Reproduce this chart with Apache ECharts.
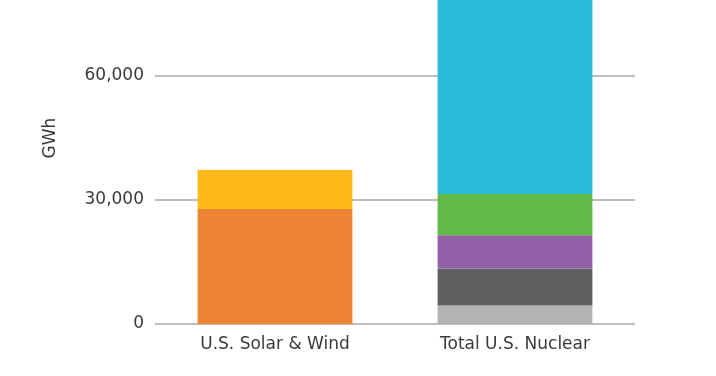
<!DOCTYPE html>
<html>
<head>
<meta charset="utf-8">
<script src="https://cdn.jsdelivr.net/npm/echarts@6/dist/echarts.min.js"></script>
<style>
  html, body { margin: 0; padding: 0; background: #fff; }
  #chart { width: 716px; height: 376px; }
</style>
</head>
<body>
<div id="chart"></div>
<script>
// categories and stacked segments (GWh)
var categories = ['U.S. Solar & Wind', 'Total U.S. Nuclear'];
var orangeVals = [27800, '-'];
var yellowVals = [9450, '-'];
var lightGrayVals = ['-', 4450];
var darkGrayVals = ['-', 8950];
var purpleVals = ['-', 8050];
var greenVals = ['-', 10000];
var cyanVals = ['-', 52000];
var yTicks = [0, 30000, 60000, 90000];

var font = 'DejaVu Sans';
var textColor = '#3a3a3a';
var lineColor = '#bcbcbc';

function seg(name, data, color) {
    return {
        name: name,
        type: 'bar',
        stack: 'total',
        data: data,
        barWidth: '64.5%',
        itemStyle: { color: color },
        emphasis: { disabled: true }
    };
}

var chart = echarts.init(document.getElementById('chart'));
chart.setOption({
    animation: false,
    grid: { left: 155, right: 81, top: -48, bottom: 52, outerBoundsMode: 'none', containLabel: false },
    xAxis: {
        type: 'category',
        data: categories,
        axisLine: { show: false },
        axisTick: { show: false },
        axisLabel: { color: textColor, fontFamily: font, fontSize: 17, margin: 12 }
    },
    yAxis: {
        type: 'value',
        min: yTicks[0],
        max: yTicks[yTicks.length - 1],
        interval: 30000,
        name: 'GWh',
        nameLocation: 'middle',
        nameGap: 96,
        nameTextStyle: { color: textColor, fontFamily: font, fontSize: 17 },
        axisLine: { show: false },
        axisTick: { show: false },
        axisLabel: {
            color: textColor, fontFamily: font, fontSize: 17, margin: 11,
            formatter: function (v) { return v.toLocaleString('en-US'); }
        },
        splitLine: { lineStyle: { color: lineColor, width: 2 } }
    },
    series: [
        seg('Solar', orangeVals, '#ee8433'),
        seg('Wind', yellowVals, '#fdb918'),
        seg('N1', lightGrayVals, '#b3b3b3'),
        seg('N2', darkGrayVals, '#5f6062'),
        seg('N3', purpleVals, '#9360a8'),
        seg('N4', greenVals, '#62bb47'),
        seg('N5', cyanVals, '#29bcd9')
    ]
});
</script>
</body>
</html>
